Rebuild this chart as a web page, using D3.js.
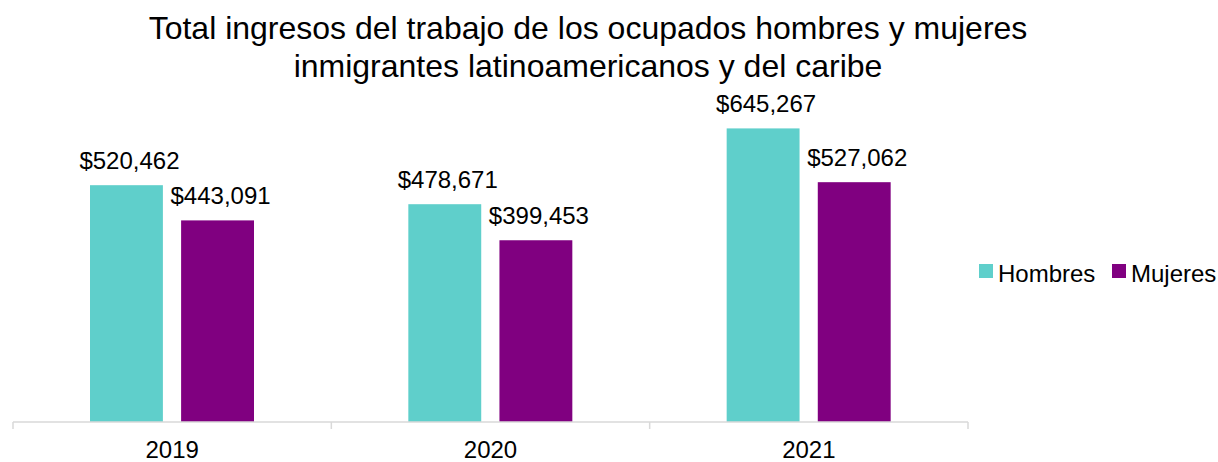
<!DOCTYPE html>
<html>
<head>
<meta charset="utf-8">
<script src="https://cdn.jsdelivr.net/npm/d3@7"></script>
<style>
  body { margin: 0; background: #fff; }
  svg text { font-family: "Liberation Sans", Arial, sans-serif; fill: #000; }
</style>
</head>
<body>
<svg id="chart" width="1218" height="462"></svg>
<script>
// data
var years = ["2019", "2020", "2021"];
var series = ["Hombres", "Mujeres"];
var hombres = [520462, 478671, 645267];
var mujeres = [443091, 399453, 527062];
var colors = ["#5fcfcb", "#800080"];

var svg = d3.select("#chart");

var x = d3.scaleBand().domain(years).range([13, 968]);
var xs = d3.scaleBand().domain(series).range([77, 241]).paddingInner(0.2);
var y = d3.scaleLinear().domain([0, 700000]).range([422, 103.5]);

// title
svg.append("text").attr("x", 588).attr("y", 39).attr("text-anchor", "middle")
  .style("font-size", "32px").text("Total ingresos del trabajo de los ocupados hombres y mujeres");
svg.append("text").attr("x", 588).attr("y", 77).attr("text-anchor", "middle")
  .style("font-size", "32px").text("inmigrantes latinoamericanos y del caribe");

// bars
var rows = years.map(function (yr, i) {
  return { year: yr, vals: [hombres[i], mujeres[i]] };
});
var fmt = d3.format("$,");

var g = svg.selectAll("g.cat").data(rows).enter().append("g")
  .attr("class", "cat")
  .attr("transform", function (d) { return "translate(" + x(d.year) + ",0)"; });

g.selectAll("rect").data(function (d) { return d.vals; }).enter().append("rect")
  .attr("x", function (d, i) { return xs(series[i]); })
  .attr("width", xs.bandwidth())
  .attr("y", function (d) { return y(d); })
  .attr("height", function (d) { return y(0) - y(d); })
  .attr("fill", function (d, i) { return colors[i]; });

g.selectAll("text.lbl").data(function (d) { return d.vals; }).enter().append("text")
  .attr("class", "lbl")
  .attr("x", function (d, i) { return xs(series[i]) + xs.bandwidth() / 2 + 3; })
  .attr("y", function (d) { return y(d) - 16; })
  .attr("text-anchor", "middle")
  .style("font-size", "24px")
  .text(function (d) { return fmt(d); });

// x axis
var axis = svg.append("g").attr("transform", "translate(0,422)");
axis.append("line").attr("x1", 13).attr("x2", 968).attr("stroke", "#d9d9d9").attr("stroke-width", 1.5);
var edges = years.map(function (yr) { return x(yr); }).concat([x.range()[1]]);
axis.selectAll("line.tick").data(edges).enter().append("line")
  .attr("class", "tick")
  .attr("x1", function (d) { return d; }).attr("x2", function (d) { return d; })
  .attr("y1", 0).attr("y2", 7)
  .attr("stroke", "#d9d9d9").attr("stroke-width", 1.5);
axis.selectAll("text").data(years).enter().append("text")
  .attr("x", function (d) { return x(d) + x.bandwidth() / 2; })
  .attr("y", 36)
  .attr("text-anchor", "middle")
  .style("font-size", "24px")
  .text(function (d) { return d; });

// legend
var legX = [979, 1112];
var leg = svg.selectAll("g.leg").data(series).enter().append("g")
  .attr("class", "leg")
  .attr("transform", function (d, i) { return "translate(" + legX[i] + ",264)"; });
leg.append("rect").attr("width", 14).attr("height", 14)
  .attr("fill", function (d, i) { return colors[i]; });
leg.append("text").attr("x", 19).attr("y", 18)
  .style("font-size", "24px").text(function (d) { return d; });
</script>
</body>
</html>
